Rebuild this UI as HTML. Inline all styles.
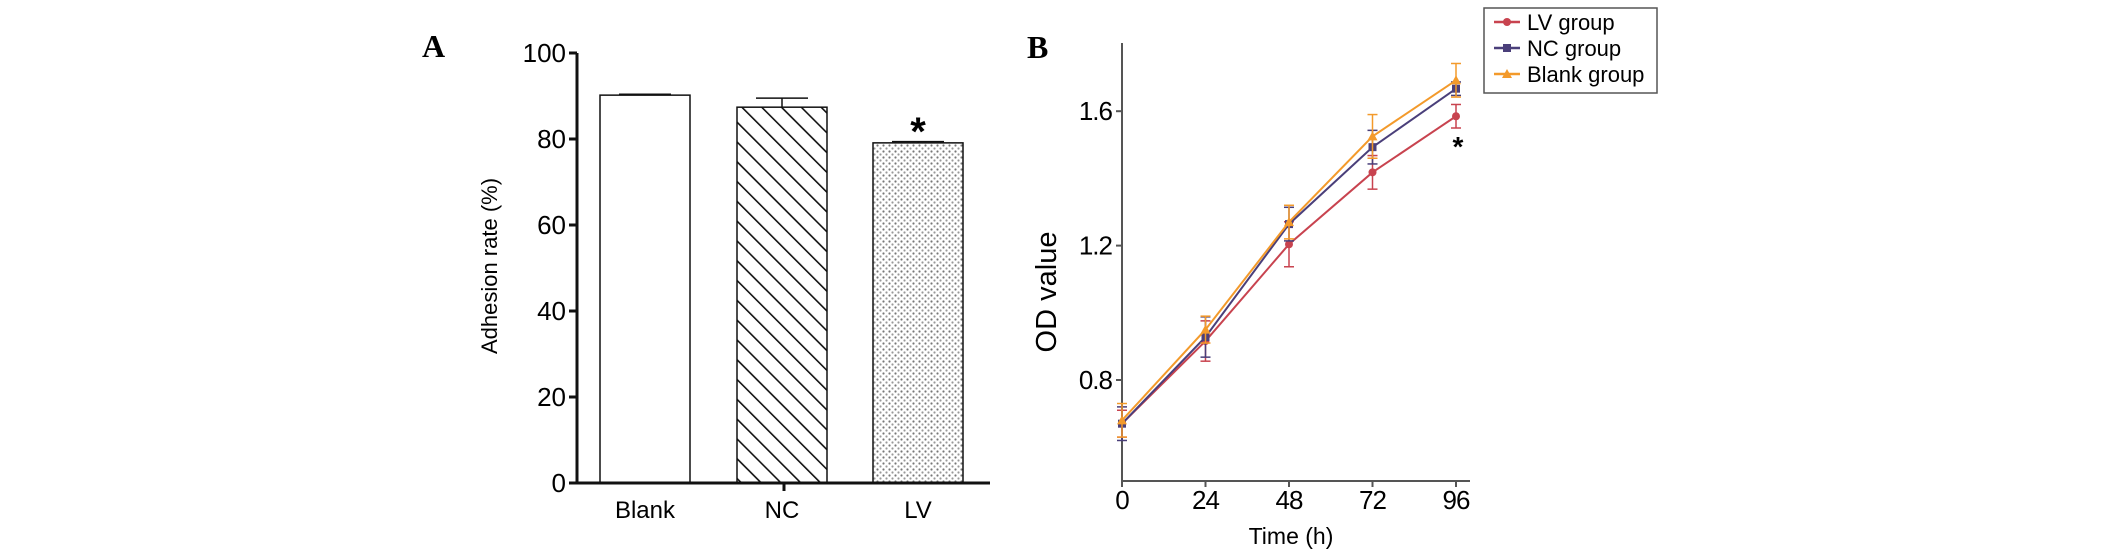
<!DOCTYPE html>
<html><head><meta charset="utf-8"><style>
body{margin:0;background:#fff;}
svg{display:block;font-family:"Liberation Sans",Arial,sans-serif;}
</style></head><body>
<svg width="2126" height="549" viewBox="0 0 2126 549">
<defs>
<pattern id="hatch" patternUnits="userSpaceOnUse" width="14" height="14" patternTransform="rotate(-45)">
<rect width="14" height="14" fill="#fff"/><line x1="0" y1="0" x2="0" y2="14" stroke="#111" stroke-width="3.2"/>
</pattern>
<pattern id="dots" patternUnits="userSpaceOnUse" width="6" height="6">
<rect width="6" height="6" fill="#fff"/><circle cx="1.5" cy="1.5" r="1.1" fill="#777"/><circle cx="4.5" cy="4.5" r="1.1" fill="#999"/>
</pattern>
</defs>
<g id="chartA"></g>
<g id="chartB"></g>
</svg>
<script>
const NS='http://www.w3.org/2000/svg';
function mk(parent,tag,attrs,text){const e=document.createElementNS(NS,tag);for(const k in attrs)e.setAttribute(k,attrs[k]);if(text!==undefined)e.textContent=text;parent.appendChild(e);return e;}

// ---- Chart A data
const barCategories=['Blank','NC','LV'];
const barValues=[90.2,87.4,79.1];
const barErrors=[0.2,2.1,0.3];
const barYTicks=[0,20,40,60,80,100];
// ---- Chart B data
const timeCats=[0,24,48,72,96];
const lvValues=[0.67,0.916,1.204,1.418,1.585];
const lvErrors=[0.04,0.06,0.067,0.05,0.035];
const ncValues=[0.67,0.928,1.264,1.493,1.667];
const ncErrors=[0.05,0.06,0.05,0.05,0.02];
const blankValues=[0.68,0.95,1.27,1.525,1.692];
const blankErrors=[0.05,0.04,0.05,0.065,0.05];
const odYTicks=[0.8,1.2,1.6];

// ===== Chart A
const A=document.getElementById('chartA');
const ax0=577, ay0=483, aPer=4.3;
const ay=v=>ay0-v*aPer;
const barX=[600,737,873], barW=90;
let t=mk(A,'text',{x:422,y:57,'font-family':'Liberation Serif,serif','font-weight':'bold','font-size':32});t.textContent='A';

barValues.forEach((v,i)=>{
 const fill=i===0?'#fff':(i===1?'url(#hatch)':'url(#dots)');
 const r=mk(A,'rect',{x:barX[i],y:ay(v),width:barW,height:ay0-ay(v),fill:fill,stroke:'#111','stroke-width':1.5});
 
 
 const cx=barX[i]+barW/2, et=ay(v+barErrors[i]);
 mk(A,'line',{x1:cx,y1:ay(v),x2:cx,y2:et,stroke:'#111','stroke-width':1.5});
 mk(A,'line',{x1:cx-26,y1:et,x2:cx+26,y2:et,stroke:'#111','stroke-width':1.5});
 const l=mk(A,'text',{x:cx,y:518,'text-anchor':'middle','font-size':24},barCategories[i]);
 
 
});
mk(A,'line',{x1:ax0,y1:ay(100),x2:ax0,y2:ay0+1,stroke:'#111','stroke-width':3});
mk(A,'line',{x1:569,y1:ay0,x2:990,y2:ay0,stroke:'#111','stroke-width':3});
mk(A,'line',{x1:784,y1:ay0,x2:784,y2:ay0+8,stroke:'#111','stroke-width':3});
barYTicks.forEach(v=>{
 mk(A,'line',{x1:569,y1:ay(v),x2:ax0,y2:ay(v),stroke:'#111','stroke-width':3});
 const l=mk(A,'text',{x:566,y:ay(v)+9,'text-anchor':'end','font-size':26},String(v));
 
 
});
t=mk(A,'text',{x:0,y:0,transform:'translate(497,266) rotate(-90)','text-anchor':'middle','font-size':22},'Adhesion rate (%)');

t=mk(A,'text',{x:918,y:145,'text-anchor':'middle','font-size':40,'font-weight':'bold'},'*');


// ===== Chart B
const B=document.getElementById('chartB');
const bx0=1122, bxPer=(1456-1122)/96;
const bx=v=>bx0+v*bxPer;
const by=v=>380-(v-0.8)*336;
t=mk(B,'text',{x:1027,y:58,'font-family':'Liberation Serif,serif','font-weight':'bold','font-size':32},'B');

mk(B,'line',{x1:bx0,y1:43,x2:bx0,y2:481,stroke:'#555','stroke-width':2});
mk(B,'line',{x1:bx0,y1:481,x2:1470,y2:481,stroke:'#555','stroke-width':2});
odYTicks.forEach(v=>{
 mk(B,'line',{x1:bx0-6,y1:by(v),x2:bx0,y2:by(v),stroke:'#555','stroke-width':2});
 const l=mk(B,'text',{x:1112,y:by(v)+9,'text-anchor':'end','font-size':26,'letter-spacing':-1},v.toFixed(1));
 
 
});
timeCats.forEach(v=>{
 mk(B,'line',{x1:bx(v),y1:481,x2:bx(v),y2:487,stroke:'#555','stroke-width':2});
 const l=mk(B,'text',{x:bx(v),y:509,'text-anchor':'middle','font-size':26,'letter-spacing':-1},String(v));
 
 
});
t=mk(B,'text',{x:1291,y:544,'text-anchor':'middle','font-size':23},'Time (h)');

t=mk(B,'text',{x:0,y:0,transform:'translate(1056,292) rotate(-90)','text-anchor':'middle','font-size':29},'OD value');


const series=[
 {name:'lv',vals:lvValues,errs:lvErrors,color:'#c8434f',mark:'circle'},
 {name:'nc',vals:ncValues,errs:ncErrors,color:'#4a3f7a',mark:'square'},
 {name:'blank',vals:blankValues,errs:blankErrors,color:'#f39a2b',mark:'triangle'}
];
function marker(g,type,x,y,c){
 if(type==='circle')return mk(g,'circle',{cx:x,cy:y,r:4,fill:c});
 if(type==='square')return mk(g,'rect',{x:x-4,y:y-4,width:8,height:8,fill:c});
 return mk(g,'polygon',{points:`${x},${y-5} ${x+5},${y+4} ${x-5},${y+4}`,fill:c});
}
series.forEach(s=>{
 const g=mk(B,'g',{});
 
 
 s.vals.forEach((v,i)=>{
  const x=bx(timeCats[i]);
  mk(g,'line',{x1:x,y1:by(v+s.errs[i]),x2:x,y2:by(v-s.errs[i]),stroke:s.color,'stroke-width':1.5});
  [v+s.errs[i],v-s.errs[i]].forEach(e=>mk(g,'line',{x1:x-5,y1:by(e),x2:x+5,y2:by(e),stroke:s.color,'stroke-width':1.5}));
 });
 mk(g,'polyline',{points:s.vals.map((v,i)=>bx(timeCats[i])+','+by(v)).join(' '),fill:'none',stroke:s.color,'stroke-width':2});
 s.vals.forEach((v,i)=>{const m=marker(g,s.mark,bx(timeCats[i]),by(v),s.color);
  
  });
});
t=mk(B,'text',{x:1458,y:156,'text-anchor':'middle','font-size':28,'font-weight':'bold'},'*');


const lg=mk(B,'g',{});


mk(lg,'rect',{x:1484,y:8,width:173,height:85,fill:'#fff',stroke:'#555','stroke-width':1.5});
const legendLabels=['LV group','NC group','Blank group'];
series.forEach((s,i)=>{
 const y=22+i*26;
 const e=mk(lg,'g',{});
 
 
 mk(e,'line',{x1:1494,y1:y,x2:1520,y2:y,stroke:s.color,'stroke-width':2.5});
 marker(e,s.mark,1507,y,s.color);
 mk(e,'text',{x:1527,y:y+8,'font-size':22},legendLabels[i]);
});
</script>
</body></html>
